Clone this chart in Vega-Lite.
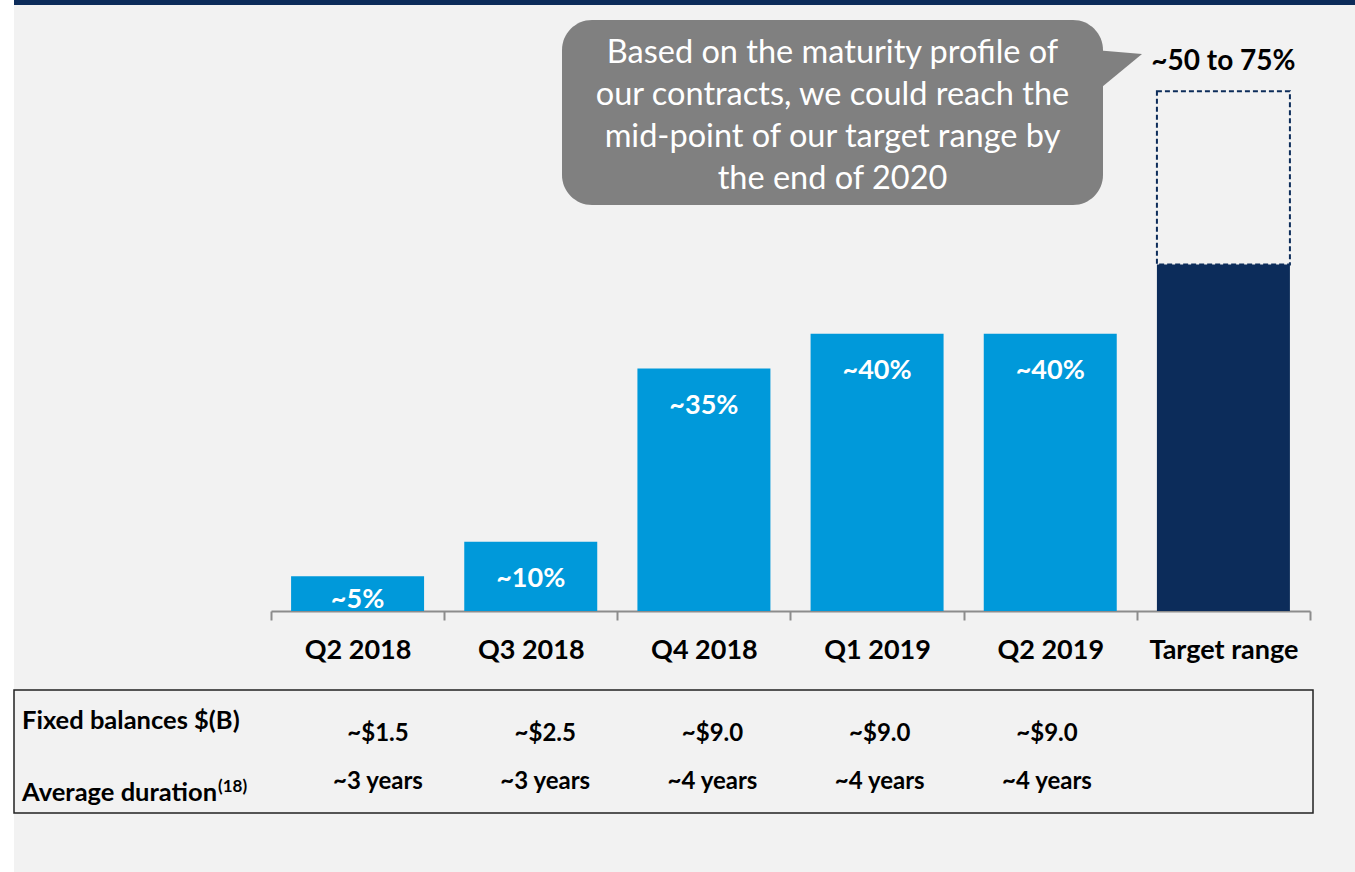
{
  "$schema": "https://vega.github.io/schema/vega-lite/v6.json",
  "width": 1341,
  "height": 872,
  "padding": {"left": 14, "top": 0, "right": 0, "bottom": 0},
  "autosize": {"type": "none"},
  "background": "#ffffff",
  "config": {"view": {"fill": "#f2f2f2", "stroke": null}, "font": "Lato"},
  "datasets": {
    "bars": [
      {"quarter": "Q2 2018", "value": 5, "label": "~5%"},
      {"quarter": "Q3 2018", "value": 10, "label": "~10%"},
      {"quarter": "Q4 2018", "value": 35, "label": "~35%"},
      {"quarter": "Q1 2019", "value": 40, "label": "~40%"},
      {"quarter": "Q2 2019", "value": 40, "label": "~40%"},
      {"quarter": "Target range", "value": 50, "high": 75, "label": "~50 to 75%"}
    ],
    "table": [
      {"quarter": "Q2 2018", "balance": "~$1.5", "duration": "~3 years"},
      {"quarter": "Q3 2018", "balance": "~$2.5", "duration": "~3 years"},
      {"quarter": "Q4 2018", "balance": "~$9.0", "duration": "~4 years"},
      {"quarter": "Q1 2019", "balance": "~$9.0", "duration": "~4 years"},
      {"quarter": "Q2 2019", "balance": "~$9.0", "duration": "~4 years"}
    ]
  },
  "layer": [
    {
      "data": {"values": [{}]},
      "layer": [
        {
          "mark": {"type": "rect", "fill": "#0c2c5a"},
          "encoding": {
            "x": {"datum": -1.4841, "type": "quantitative", "scale": {"domain": [-1.4841, 6.2597], "nice": false, "zero": false}, "axis": null},
            "x2": {"datum": 6.2597},
            "y": {"datum": 88.17, "type": "quantitative", "scale": {"domain": [-37.66, 88.17], "nice": false, "zero": false}, "axis": null},
            "y2": {"datum": 87.45}
          }
        },
        {
          "mark": {"type": "rect", "fill": "#808080", "cornerRadius": 30},
          "encoding": {
            "x": {"datum": 1.6804, "type": "quantitative"},
            "x2": {"datum": 4.8045},
            "y": {"datum": 85.28, "type": "quantitative"},
            "y2": {"datum": 58.59}
          }
        },
        {
          "mark": {"type": "point", "shape": "M-1.2,-1 L1.0,-0.81 L-1.2,1 Z", "size": 1849, "filled": true, "fill": "#808080", "opacity": 1, "strokeWidth": 0},
          "encoding": {
            "x": {"datum": 4.9056, "type": "quantitative"},
            "y": {"datum": 77.85, "type": "quantitative"}
          }
        },
        {
          "mark": {"type": "text", "align": "center", "baseline": "alphabetic", "fontSize": 32.5, "lineHeight": 42, "fill": "#ffffff", "font": "Lato"},
          "encoding": {
            "x": {"datum": 3.2425, "type": "quantitative"},
            "y": {"datum": 79.08, "type": "quantitative"},
            "text": {"value": ["Based on the maturity profile of", "our contracts, we could reach the", "mid-point of our target range by", "the end of 2020"]}
          }
        },
        {
          "mark": {"type": "rect", "fillOpacity": 0, "stroke": "#222222", "strokeWidth": 1.5},
          "encoding": {
            "x": {"datum": -1.4841, "type": "quantitative"},
            "x2": {"datum": 6.0172},
            "y": {"datum": -11.4, "type": "quantitative"},
            "y2": {"datum": -29.15}
          }
        },
        {
          "mark": {"type": "text", "align": "left", "baseline": "alphabetic", "fontSize": 25.5, "fontWeight": "bold", "fill": "#000000"},
          "encoding": {
            "x": {"datum": -1.4379, "type": "quantitative"},
            "y": {"datum": -17.03, "type": "quantitative"},
            "text": {"value": "Fixed balances $(B)"}
          }
        },
        {
          "mark": {"type": "text", "align": "left", "baseline": "alphabetic", "fontSize": 25.5, "fontWeight": "bold", "fill": "#000000"},
          "encoding": {
            "x": {"datum": -1.4379, "type": "quantitative"},
            "y": {"datum": -27.42, "type": "quantitative"},
            "text": {"value": "Average duration"}
          }
        },
        {
          "mark": {"type": "text", "align": "left", "baseline": "alphabetic", "fontSize": 17, "fontWeight": "bold", "fill": "#000000"},
          "encoding": {
            "x": {"datum": -0.306, "type": "quantitative"},
            "y": {"datum": -26.12, "type": "quantitative"},
            "text": {"value": "(18)"}
          }
        }
      ]
    },
    {
      "data": {"name": "bars"},
      "encoding": {
        "x": {
          "field": "quarter", "type": "nominal", "sort": null,
          "scale": {"domain": ["Q2 2018", "Q3 2018", "Q4 2018", "Q1 2019", "Q2 2019", "Target range"], "range": [257, 1296], "paddingInner": 0, "paddingOuter": 0},
          "axis": {
            "title": null, "orient": "bottom", "offset": -261, "tickBand": "extent", "labelAngle": 0, "grid": false,
            "domainColor": "#8c8c8c", "domainWidth": 2, "tickColor": "#8c8c8c", "tickWidth": 2, "tickSize": 9,
            "labelFont": "Lato", "labelFontWeight": "bold", "labelFontSize": 27, "labelColor": "#000000", "labelPadding": 17
          }
        }
      },
      "layer": [
        {
          "mark": {"type": "bar", "width": {"band": 0.768}},
          "encoding": {
            "y": {"field": "value", "type": "quantitative", "scale": {"domain": [-37.66, 88.17], "nice": false, "zero": false}, "axis": null},
            "y2": {"datum": 0},
            "color": {"condition": {"test": "datum.quarter === 'Target range'", "value": "#0c2c5a"}, "value": "#0099da"}
          }
        },
        {
          "transform": [{"filter": "isValid(datum.high)"}],
          "mark": {"type": "bar", "width": {"band": 0.768}, "fillOpacity": 0, "stroke": "#0c2c5a", "strokeWidth": 2, "strokeDash": [5, 3]},
          "encoding": {
            "y": {"field": "value", "type": "quantitative"},
            "y2": {"field": "high"}
          }
        },
        {
          "transform": [
            {"filter": "!isValid(datum.high)"},
            {"calculate": "max(datum.value - 6.5, 0.45)", "as": "labelPos"}
          ],
          "mark": {"type": "text", "align": "center", "baseline": "alphabetic", "fontSize": 27, "fontWeight": "bold", "fill": "#ffffff"},
          "encoding": {
            "y": {"field": "labelPos", "type": "quantitative"},
            "text": {"field": "label"}
          }
        },
        {
          "transform": [{"filter": "isValid(datum.high)"}],
          "mark": {"type": "text", "align": "center", "baseline": "alphabetic", "fontSize": 28, "fontWeight": "bold", "fill": "#000000", "dy": -21},
          "encoding": {
            "y": {"field": "high", "type": "quantitative"},
            "text": {"field": "label"}
          }
        }
      ]
    },
    {
      "data": {"name": "table"},
      "encoding": {
        "x": {
          "field": "quarter", "type": "nominal", "sort": null,
          "scale": {"domain": ["Q2 2018", "Q3 2018", "Q4 2018", "Q1 2019", "Q2 2019"], "range": [280.35, 1116.6], "paddingInner": 0, "paddingOuter": 0},
          "axis": null
        }
      },
      "layer": [
        {
          "mark": {"type": "text", "align": "center", "baseline": "alphabetic", "fontSize": 24, "fontWeight": "bold", "fill": "#000000"},
          "encoding": {
            "y": {"datum": -18.76, "type": "quantitative"},
            "text": {"field": "balance"}
          }
        },
        {
          "mark": {"type": "text", "align": "center", "baseline": "alphabetic", "fontSize": 24, "fontWeight": "bold", "fill": "#000000"},
          "encoding": {
            "y": {"datum": -25.69, "type": "quantitative"},
            "text": {"field": "duration"}
          }
        }
      ]
    }
  ],
  "resolve": {"scale": {"x": "independent"}, "axis": {"x": "independent"}}
}
